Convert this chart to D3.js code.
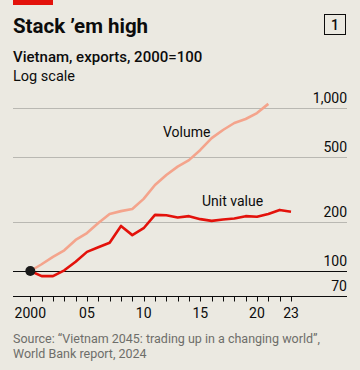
<!DOCTYPE html>
<html><head><meta charset="utf-8">
<script src="https://cdn.jsdelivr.net/npm/d3@7"></script>
<style>
html,body{margin:0;padding:0;background:#ebe9e1;}
svg{display:block;font-family:Roboto, "Noto Sans", sans-serif;}
</style></head>
<body><svg id="c" width="360" height="370"></svg>
<script>
const years = d3.range(2000, 2024);
const volume = [100,110,122,134,155,171,197,224,233,240,277,337,388,437,479,553,653,733,809,856,931,1060];
const unitValue = [100,93,93,101,114,131,140,149,189,166,183,221,220,213,217,208,203,207,210,217,215,224,237,231];
const yTicks = [70,100,200,500,1000];
const xTickLabels = {2000:"2000",2005:"05",2010:"10",2015:"15",2020:"20",2023:"23"};

const svg = d3.select("#c");
const bg = "#ebe9e1";
svg.append("rect").attr("width",360).attr("height",370).attr("fill",bg);
svg.append("rect").attr("x",13).attr("y",0).attr("width",40).attr("height",5).attr("fill","#e3120b");

svg.append("text").attr("x",13).attr("y",33).attr("font-size",20.5).attr("font-weight",700).attr("fill","#0c0c0c").text("Stack ’em high");
svg.append("text").attr("x",13).attr("y",62).attr("font-size",15).attr("font-weight",500).attr("fill","#0c0c0c").text("Vietnam, exports, 2000=100");
svg.append("text").attr("x",13).attr("y",81).attr("font-size",14.5).attr("fill","#0c0c0c").text("Log scale");

svg.append("rect").attr("x",324.5).attr("y",14.5).attr("width",21).attr("height",20).attr("fill","none").attr("stroke","#0c0c0c").attr("stroke-width",1);
svg.append("text").attr("x",335).attr("y",30).attr("text-anchor","middle").attr("font-size",14).attr("font-weight",500).attr("fill","#0c0c0c").text("1");

const x = d3.scaleLinear().domain([2000,2023]).range([30.3,291]);
const y = d3.scaleLog().domain([100,1000]).range([271,108]);

const left = 13, right = 347;
yTicks.forEach(t => {
  const yy = Math.round(y(t)) + 0.5;
  if (t !== 70) {
    svg.append("line").attr("x1",left).attr("x2",right).attr("y1",yy).attr("y2",yy)
      .attr("stroke", t===100 ? "#0c0c0c" : "#b9b8b2").attr("stroke-width",1);
  }
  svg.append("text").attr("x",right).attr("y",y(t)-5).attr("text-anchor","end")
    .attr("font-size",14).attr("fill","#0c0c0c").text(d3.format(",")(t));
});

// x axis at 70
const axisY = Math.round(y(70)) + 0.5;
svg.append("line").attr("x1",left).attr("x2",right).attr("y1",axisY).attr("y2",axisY).attr("stroke","#0c0c0c").attr("stroke-width",1);
years.forEach(yr => {
  const xx = Math.round(x(yr)) + 0.5;
  svg.append("line").attr("x1",xx).attr("x2",xx).attr("y1",axisY).attr("y2",axisY+5).attr("stroke","#0c0c0c").attr("stroke-width",1);
  if (xTickLabels[yr]) {
    svg.append("text").attr("x",x(yr)).attr("y",318).attr("text-anchor","middle").attr("font-size",14).attr("fill","#0c0c0c").text(xTickLabels[yr]);
  }
});

const line = d3.line().x((d,i)=>x(2000+i)).y(d=>y(d));
svg.append("path").datum(volume).attr("d",line).attr("fill","none").attr("stroke","#f4a48c").attr("stroke-width",2.6).attr("stroke-linejoin","round");
svg.append("path").datum(unitValue).attr("d",line).attr("fill","none").attr("stroke","#e3120b").attr("stroke-width",2.6).attr("stroke-linejoin","round");
svg.append("circle").attr("cx",x(2000)).attr("cy",y(100)).attr("r",5).attr("fill","#1a1a1a");

svg.append("text").attr("x",163).attr("y",137).attr("font-size",14).attr("fill","#0c0c0c").text("Volume");
svg.append("text").attr("x",202).attr("y",206).attr("font-size",14).attr("fill","#0c0c0c").text("Unit value");

svg.append("text").attr("x",13).attr("y",343).attr("font-size",12.5).attr("fill","#6e6e6a").text("Source: “Vietnam 2045: trading up in a changing world”,");
svg.append("text").attr("x",13).attr("y",358).attr("font-size",12.5).attr("fill","#6e6e6a").text("World Bank report, 2024");
</script></body></html>
